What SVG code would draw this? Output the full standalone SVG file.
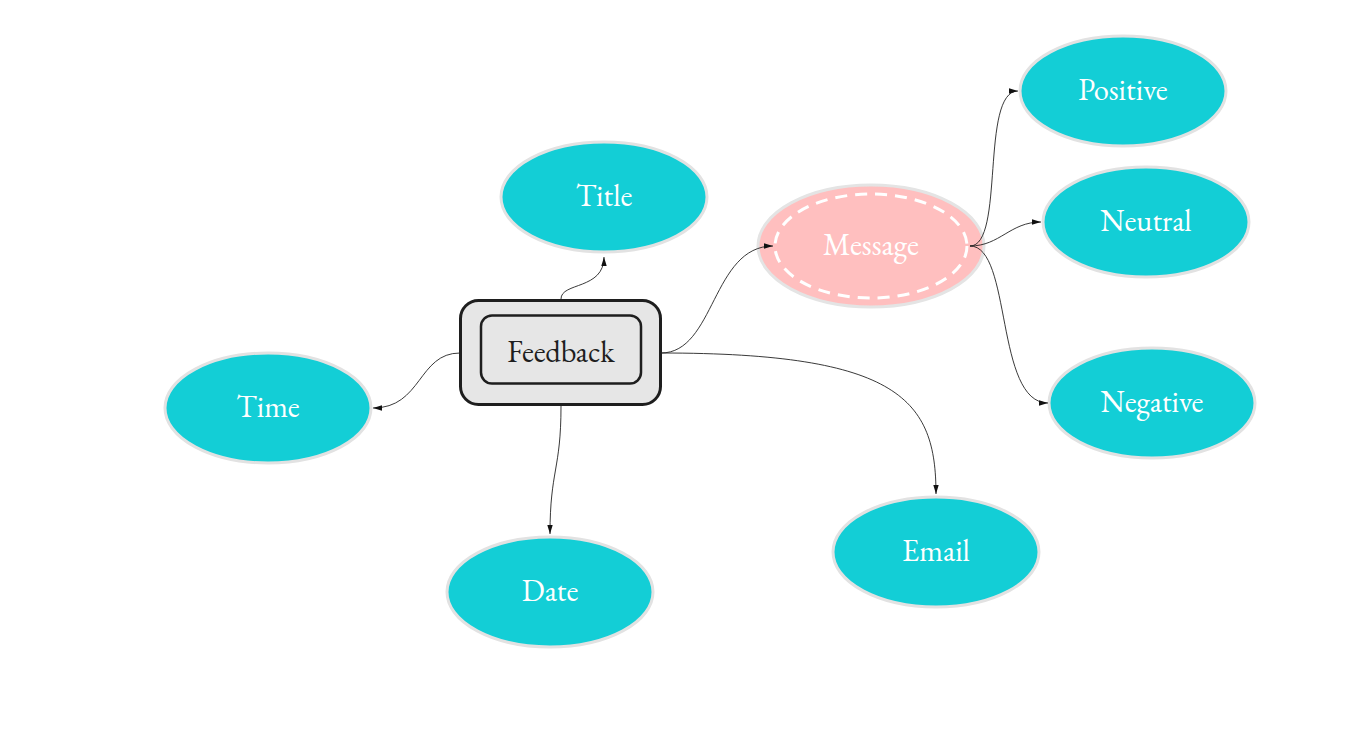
<svg xmlns="http://www.w3.org/2000/svg" width="1366" height="732" viewBox="0 0 1366 732">
<defs>
<marker id="arr" viewBox="0 0 10 6" refX="10" refY="3" markerWidth="9" markerHeight="5.4" markerUnits="userSpaceOnUse" orient="auto">
<path d="M0,0 L10,3 L0,6 Z" fill="#111"/>
</marker>
<style>
.topic ellipse{fill:#13ced6;stroke:#e2e2e2;stroke-width:3}
.topic text{fill:#ffffff;font-family:"EB Garamond","Liberation Serif",serif;font-size:30.5px;text-anchor:middle;dominant-baseline:central}
.conn path{fill:none;stroke:#222;stroke-width:0.9;marker-end:url(#arr)}
</style>
</defs>
<rect width="1366" height="732" fill="#ffffff"/>
<g id="node-feedback">
<rect x="460.5" y="300.5" width="200" height="104" rx="18" fill="#e6e6e6" stroke="#1e1e1e" stroke-width="3"/>
<rect x="481" y="315.5" width="160" height="68" rx="11" fill="#e6e6e6" stroke="#1e1e1e" stroke-width="2.5"/>
<text x="561" y="351" font-family="EB Garamond, Liberation Serif, serif" font-size="30.5" fill="#1e1e1e" text-anchor="middle" dominant-baseline="central">Feedback</text>
</g>
<g id="node-title" class="topic"><ellipse cx="604" cy="197" rx="103" ry="55"/><text x="604" y="195">Title</text></g>
<g id="node-time" class="topic"><ellipse cx="268" cy="408" rx="103" ry="55"/><text x="268" y="406">Time</text></g>
<g id="node-date" class="topic"><ellipse cx="550" cy="592" rx="103" ry="55"/><text x="550" y="590">Date</text></g>
<g id="node-email" class="topic"><ellipse cx="936" cy="552" rx="103" ry="55"/><text x="936" y="550">Email</text></g>
<g id="node-message">
<ellipse cx="871" cy="246" rx="113" ry="61" fill="#ffbfbf" stroke="#e4e4e4" stroke-width="3"/>
<ellipse cx="871" cy="246" rx="96" ry="52" fill="none" stroke="#ffffff" stroke-width="3" stroke-dasharray="12 8"/>
<text x="871" y="244" font-family="EB Garamond, Liberation Serif, serif" font-size="30.5" fill="#ffffff" text-anchor="middle" dominant-baseline="central">Message</text>
</g>
<g id="node-positive" class="topic"><ellipse cx="1123" cy="91" rx="103" ry="55"/><text x="1123" y="89">Positive</text></g>
<g id="node-neutral" class="topic"><ellipse cx="1146" cy="222" rx="103" ry="55"/><text x="1146" y="220">Neutral</text></g>
<g id="node-negative" class="topic"><ellipse cx="1152" cy="403" rx="103" ry="55"/><text x="1152" y="401">Negative</text></g>
<g class="conn" id="connectors">
<path d="M561,299 C561,282 604,290 604,257"/>
<path d="M460,353 C418,353 422,408 373,408"/>
<path d="M561,406 C561,470 550,470 550,534"/>
<path d="M661,353 C900,353 936,400 936,494"/>
<path d="M661,353 C715,353 712,246 773,246"/>
<path d="M970,246 C1005,246 980,91 1018,91"/>
<path d="M970,246 C1000,246 1010,222 1041,222"/>
<path d="M970,246 C1012,246 995,403 1048,403"/>
</g>
</svg>
